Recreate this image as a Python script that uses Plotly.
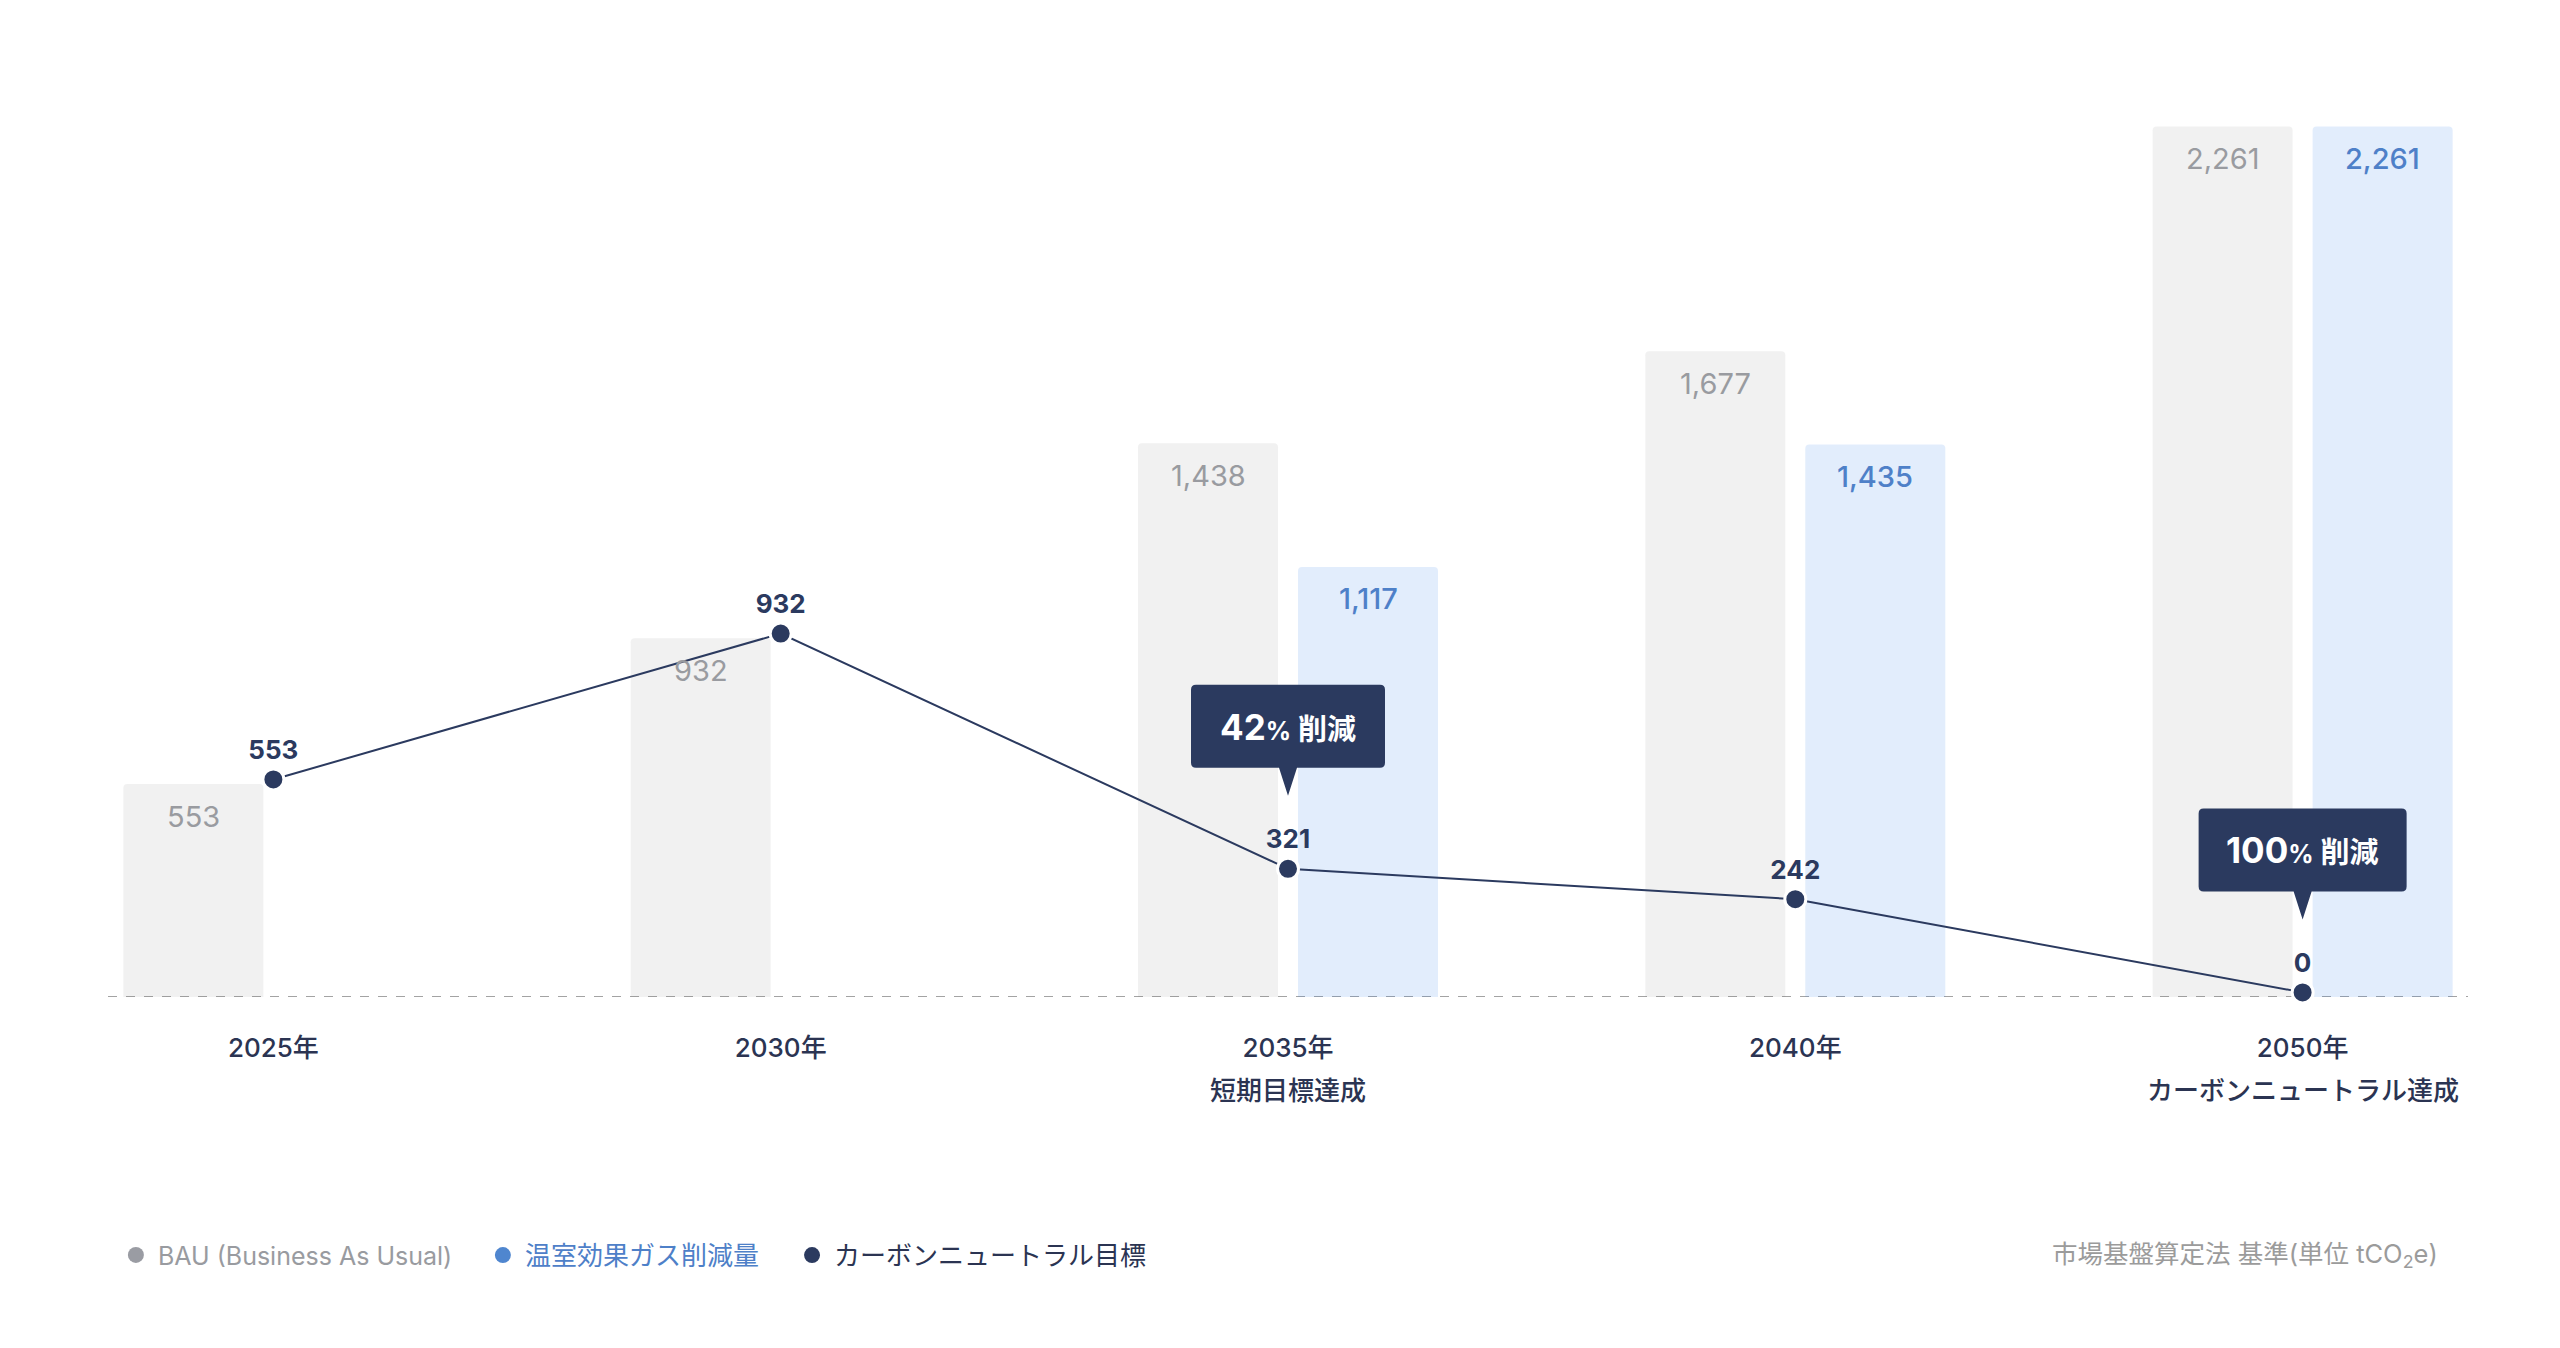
import plotly.graph_objects as go

# ---------------- data ----------------
years = ["2025年", "2030年", "2035年", "2040年", "2050年"]
year_notes = ["", "", "短期目標達成", "", "カーボンニュートラル達成"]
bau = [553, 932, 1438, 1677, 2261]
reduction = [None, None, 1117, 1435, 2261]
target = [553, 932, 321, 242, 0]
callout_index = [2, 4]
callout_pct = [42, 100]
series_names = ["BAU (Business As Usual)", "温室効果ガス削減量", "カーボンニュートラル目標"]
unit_note = "市場基盤算定法 基準(単位 tCO<sub>2</sub>e)"

# ---------------- style ----------------
FONT = "Inter, Noto Sans CJK JP, Noto Sans, sans-serif"
NAVY = "#2b3a5f"
TICK_COL = "#2b3452"
BAU_FILL = "rgba(120,120,120,0.105)"
RED_FILL = "rgba(55,130,235,0.145)"
BAU_TXT = "#999ba0"
RED_TXT = "#4e80c8"
LEG_BAU = "#9a9ca3"
LEG_RED = "#4f86cf"
BAR_W = 0.276
BAU_OFF = -0.2957
RED_OFF = 0.0197
Y_TOP = 2361
LINE_SHIFT = 12  # line series sits a few px above the bar baseline

fig = go.Figure()

fig.add_bar(x=years, y=bau, width=BAR_W, offset=BAU_OFF, name=series_names[0],
            marker=dict(color=BAU_FILL, line=dict(width=0), cornerradius=4),
            showlegend=False, hoverinfo="skip")
fig.add_bar(x=years, y=reduction, width=BAR_W, offset=RED_OFF, name=series_names[1],
            marker=dict(color=RED_FILL, line=dict(width=0), cornerradius=4),
            showlegend=False, hoverinfo="skip")

fig.add_scatter(x=years, y=target, yaxis="y2", mode="lines+markers+text", name=series_names[2],
                text=[f"{v:,}" for v in target], textposition="top center",
                textfont=dict(family=FONT, size=26, color=NAVY, weight=700),
                line=dict(color=NAVY, width=2),
                marker=dict(size=21, color=NAVY, line=dict(color="white", width=3)),
                cliponaxis=False, showlegend=False, hoverinfo="skip")

# legend entries (dots), one legend each so they can be placed and coloured like the reference
leg_cols = [LEG_BAU, LEG_RED, NAVY]
leg_txt = [BAU_TXT, RED_TXT, TICK_COL]
leg_size = [25, 26, 26]
leg_x = [0.0025, 0.158, 0.289]
leg_ids = ["legend", "legend2", "legend3"]
for nm, col, lid in zip(series_names, leg_cols, leg_ids):
    fig.add_scatter(x=[None], y=[None], mode="markers", marker=dict(size=16, color=col),
                    name=nm, showlegend=True, legend=lid)

annotations = []
# bar value labels
for i, v in enumerate(bau):
    if v:
        annotations.append(dict(x=i + BAU_OFF + BAR_W / 2, y=v, xref="x", yref="y",
                                text=f"{v:,}", showarrow=False, yanchor="middle", yshift=-32,
                                font=dict(family=FONT, size=29, color=BAU_TXT)))
for i, v in enumerate(reduction):
    if v:
        annotations.append(dict(x=i + RED_OFF + BAR_W / 2, y=v, xref="x", yref="y",
                                text=f"{v:,}", showarrow=False, yanchor="middle", yshift=-32,
                                font=dict(family=FONT, size=29, color=RED_TXT, weight=500)))

# second line of category labels
for i, note in enumerate(year_notes):
    if note:
        annotations.append(dict(x=i, y=0, xref="x", yref="paper", text=note, showarrow=False,
                                yanchor="middle", yshift=-93,
                                font=dict(family=FONT, size=26, color=TICK_COL, weight=500)))

# callouts
shapes = []
for idx, pct in zip(callout_index, callout_pct):
    hw = (166 + 14 * len(str(pct))) / 2
    b, t, r, th, tip = 101, 184, 5, 9, 73
    path = (f"M {-hw + r},{b} L {-th},{b} L 0,{tip} L {th},{b} L {hw - r},{b} "
            f"Q {hw},{b} {hw},{b + r} L {hw},{t - r} Q {hw},{t} {hw - r},{t} "
            f"L {-hw + r},{t} Q {-hw},{t} {-hw},{t - r} L {-hw},{b + r} Q {-hw},{b} {-hw + r},{b} Z")
    shapes.append(dict(type="path", xref="x", yref="y2", xsizemode="pixel", ysizemode="pixel",
                       xanchor=idx, yanchor=target[idx], path=path,
                       fillcolor=NAVY, line=dict(width=0), layer="above"))
    annotations.append(dict(x=idx, y=target[idx], xref="x", yref="y2", showarrow=False,
                            yanchor="middle", yshift=142,
                            text=(f"<b>{pct}<span style='font-size:25px'>%</span>"
                                  f"<span style='font-size:29px'>\u00a0削減</span></b>"),
                            font=dict(family=FONT, size=35, color="white")))

# baseline dashed
shapes.append(dict(type="line", xref="paper", yref="y", x0=0, x1=1, y0=0, y1=0,
                   line=dict(color="#a3a3a3", width=2, dash="dash"), layer="below"))

# unit note
annotations.append(dict(x=0.988, y=-0.284, xref="paper", yref="paper", xanchor="right",
                        yanchor="middle", showarrow=False, text=unit_note,
                        font=dict(family=FONT, size=25.5, color="#9b9b9b")))

legend_layout = {}
for lid, lx, tc, fs in zip(leg_ids, leg_x, leg_txt, leg_size):
    legend_layout[lid] = dict(orientation="h", x=lx, xanchor="left", y=-0.284, yanchor="middle",
                              font=dict(family=FONT, size=fs, color=tc), itemwidth=34,
                              bgcolor="rgba(0,0,0,0)")

fig.update_layout(
    width=2560, height=1348,
    margin=dict(l=100, r=100, t=80, b=359),
    paper_bgcolor="white", plot_bgcolor="white",
    barmode="overlay",
    font=dict(family=FONT),
    showlegend=True,
    xaxis=dict(type="category", range=[-0.326, 4.326], showgrid=False, zeroline=False,
               showline=False, ticks="", ticklabelstandoff=33,
               tickfont=dict(family=FONT, size=26, color=TICK_COL, weight=500)),
    yaxis=dict(range=[0, Y_TOP], showgrid=False, zeroline=False, showline=False,
               showticklabels=False, ticks=""),
    yaxis2=dict(range=[-LINE_SHIFT, Y_TOP - LINE_SHIFT], overlaying="y", showgrid=False,
                zeroline=False, showline=False, showticklabels=False, ticks=""),
    shapes=shapes,
    annotations=annotations,
    **legend_layout,
)

fig.write_html("out.html")
